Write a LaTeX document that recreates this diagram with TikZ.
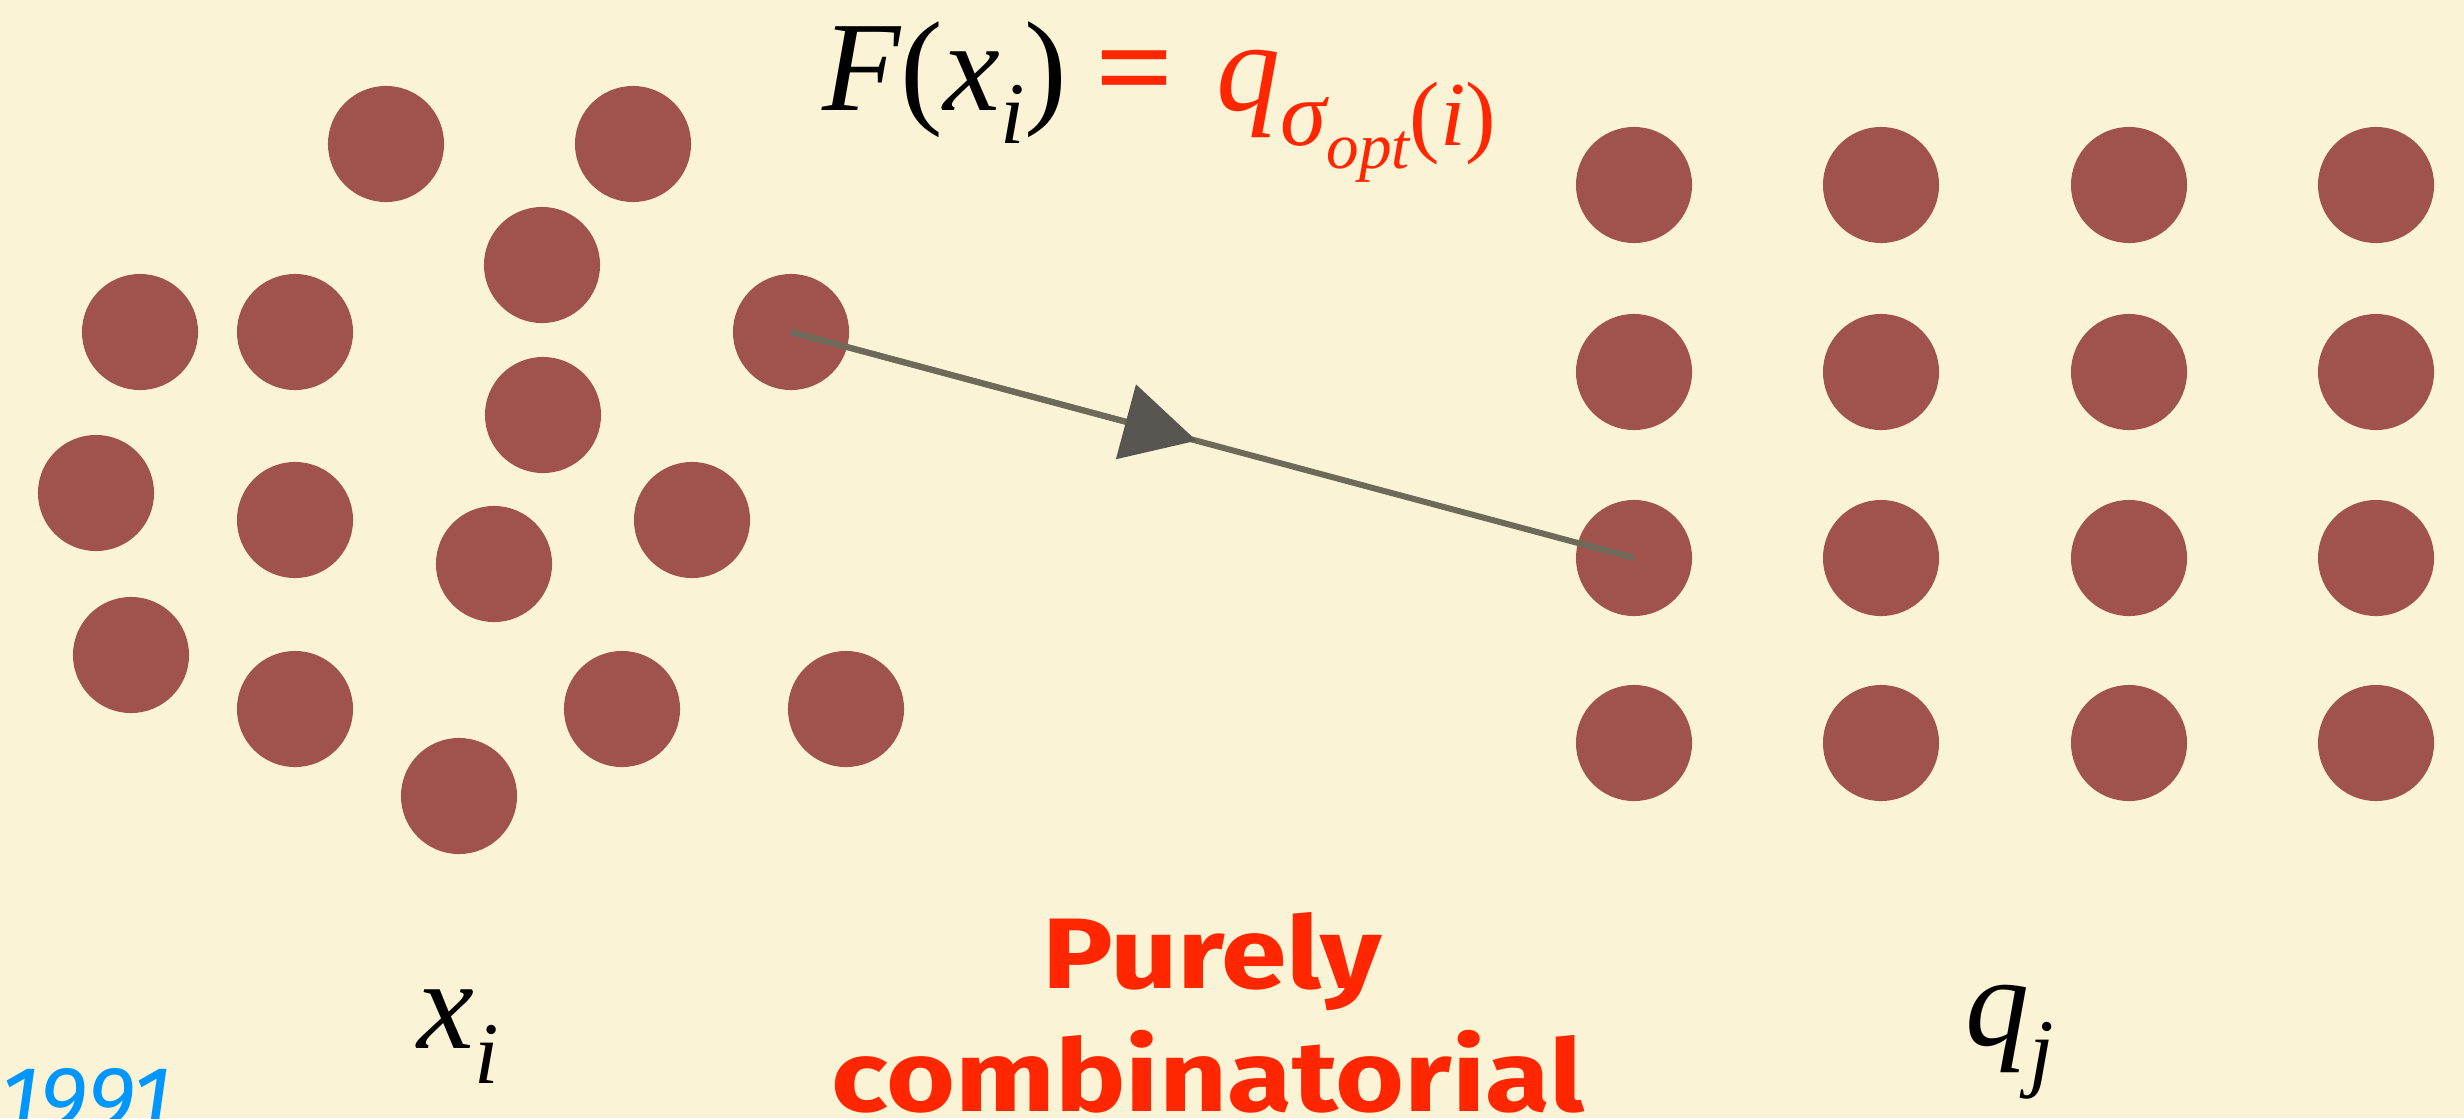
\documentclass[tikz,border=0pt]{standalone}
\usepackage[no-math]{fontspec}
\setmainfont{Liberation Serif}
\newfontfamily\gillbold{Fira Sans}[UprightFont=* Bold,FakeStretch=1.18]
\newfontfamily\gillital{Fira Sans}[UprightFont=* Italic]
\usetikzlibrary{arrows.meta,calc}
\definecolor{bg}{RGB}{251,243,214}
\definecolor{dotc}{RGB}{160,82,76}
\definecolor{tred}{RGB}{255,38,0}
\definecolor{tblue}{RGB}{0,150,255}
\definecolor{linec}{RGB}{110,106,90}
\definecolor{tipc}{RGB}{89,86,81}
\newcommand\lowr[3]{\raisebox{#1}{\fontsize{#2}{#2}\selectfont #3}}
\begin{document}
\begin{tikzpicture}[x=0.01cm,y=-0.01cm,
  dot/.style={circle,fill=dotc,inner sep=0pt,minimum size=1.16cm},
  arrowline/.style={draw=linec,line width=0.06cm},
  mathlabel/.style={anchor=base west,inner sep=0pt,font=\fontsize{36.4}{43}\selectfont},
  redtext/.style={anchor=base,inner sep=0pt,text=tred,font=\gillbold\fontsize{28.5}{35}\selectfont}]
\useasboundingbox (0,0) rectangle (2464,1118);
\fill[bg] (0,0) rectangle (2464,1118);
% left cloud
\node[dot] (p1) at (386,144) {};
\node[dot] (p2) at (633,144) {};
\node[dot] (p3) at (542,265) {};
\node[dot] (p4) at (140,332) {};
\node[dot] (p5) at (295,332) {};
\node[dot] (p6) at (791,332) {};
\node[dot] (p7) at (543,415) {};
\node[dot] (p8) at (96,493) {};
\node[dot] (p9) at (295,520) {};
\node[dot] (p10) at (494,564) {};
\node[dot] (p11) at (692,520) {};
\node[dot] (p12) at (131,655) {};
\node[dot] (p13) at (295,709) {};
\node[dot] (p14) at (622,709) {};
\node[dot] (p15) at (846,709) {};
\node[dot] (p16) at (459,796) {};
% right grid
\foreach \r/\yy in {1/185,2/372,3/558,4/743}
  \foreach \c/\xx in {1/1634,2/1881,3/2129,4/2376}
    \node[dot] (g\r\c) at (\xx,\yy) {};
% arrow
\coordinate (mid) at ($(p6.center)!0.481!(g31.center)$);
\draw[arrowline] (p6.center) -- (g31.center);
\draw[arrowline,-{Triangle[length=0.73cm,width=0.76cm,fill=tipc,color=tipc]}] (p6.center) -- (mid);
% formula
\node[mathlabel] (formula) at (822,110) {\itshape F\upshape(\itshape x\lowr{-9.4pt}{25}{\itshape i}\upshape)\hspace{8pt}\color{tred}\scalebox{1.08}[1]{\bfseries =}\hspace{12pt}\itshape q\lowr{-10pt}{26.5}{σ}\lowr{-16.5pt}{18.5}{opt}\lowr{-10pt}{26}{\upshape(\itshape i\upshape)}};
\node[mathlabel] (xlab) at (417,1048) {\itshape x\lowr{-10pt}{25}{i}};
\node[mathlabel] (qlab) at (1965,1045) {\itshape q\lowr{-10pt}{25}{j}};
% purely combinatorial
\node[redtext] (pur) at (1212,988) {Purely};
\node[redtext] (comb) at (1208,1111) {combinatorial};
% year
\node[anchor=base west,inner sep=0pt,text=tblue,font=\gillital\fontsize{26}{30}\selectfont] (year) at (0,1130) {1991};
\end{tikzpicture}
\end{document}
